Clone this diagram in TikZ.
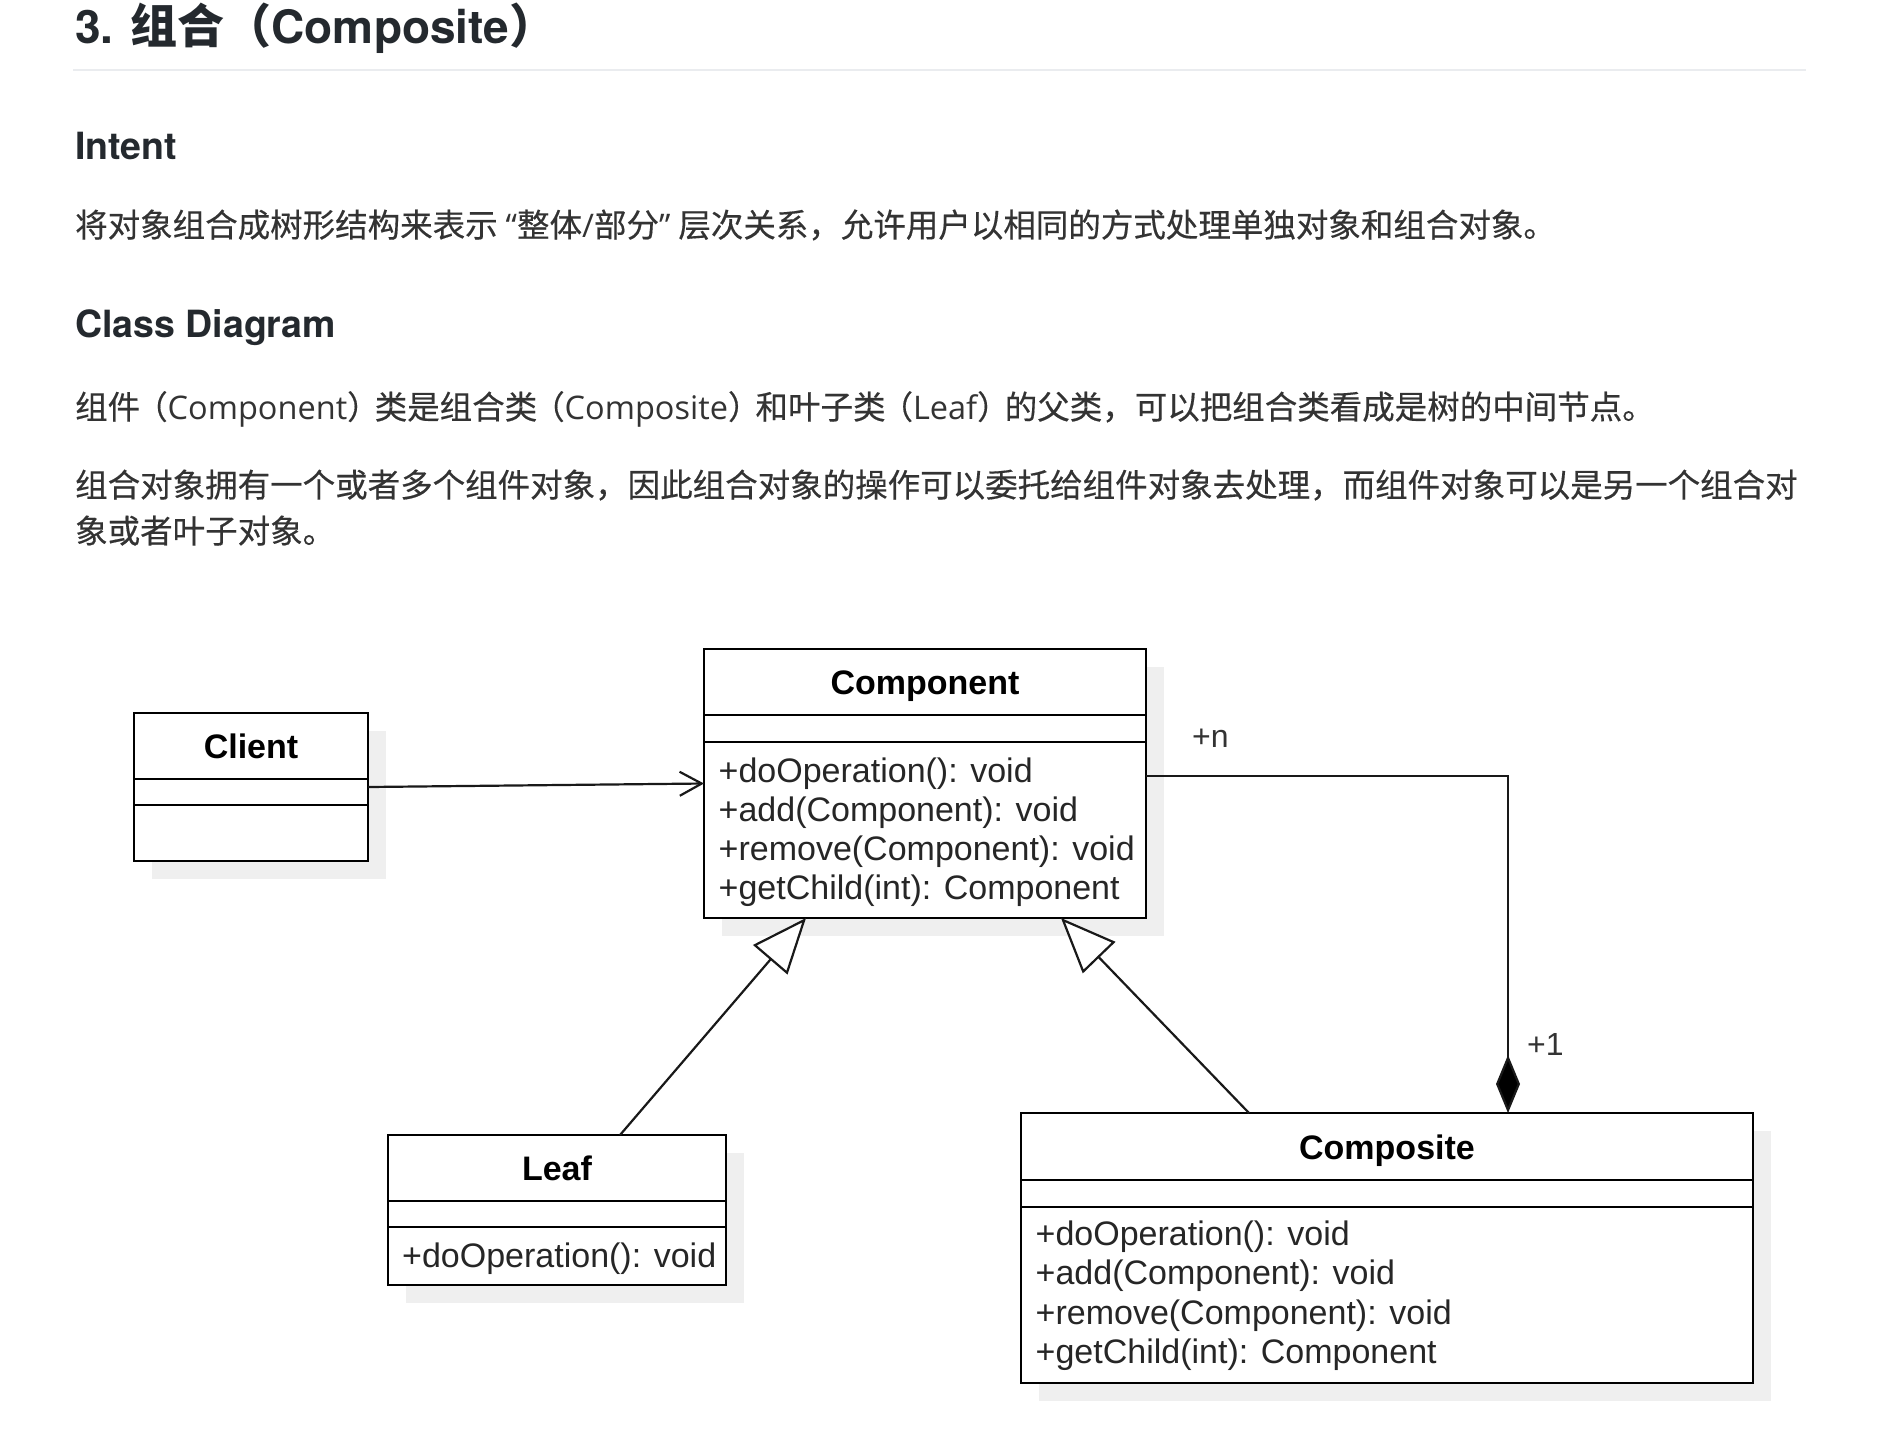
\documentclass[tikz,border=0pt]{standalone}
\usepackage{fontspec}
\setmainfont{Liberation Sans}
\newfontfamily\cjk[FakeBold=0.4]{Noto Sans CJK SC}
\newfontfamily\cjkt{Noto Sans CJK SC}
\newfontfamily\latin{Open Sans}
\newfontfamily\heros{TeX Gyre Heros}
\usetikzlibrary{arrows.meta,calc,shadows}
\definecolor{headc}{HTML}{24292E}
\definecolor{bodyc}{HTML}{333333}
\definecolor{rulec}{HTML}{EAECEF}
\definecolor{shadowc}{HTML}{EFEFEF}
\newcommand\lp{\kern-5pt（}
\newcommand\rp{）\kern-5pt}
\tikzset{
  classbox/.style={draw=black, line width=2.6pt, fill=white, inner sep=0pt, outer sep=0pt,
    anchor=north west,
    drop shadow={shadow xshift=18pt, shadow yshift=-18pt, fill=shadowc, opacity=1}},
  cname/.style={font=\fontsize{34}{40}\selectfont\bfseries, anchor=base, inner sep=0pt, text=black},
  cattr/.style={font=\fontsize{34}{40}\selectfont, anchor=base west, inner sep=0pt, text=black!85},
  mult/.style={font=\fontsize{32}{38}\selectfont, anchor=base west, inner sep=0pt, text=bodyc},
  divider/.style={line width=2.6pt},
  conn/.style={line width=2.2pt, draw=black!90},
  gen/.style={conn, -{Triangle[open, length=55pt, width=45pt, fill=white, line width=2.2pt]}},
  assoc/.style={conn, -{Straight Barb[length=22pt, width=24pt, line width=2.2pt]}},
  compos/.style={conn, -{Diamond[length=58pt, width=24pt, fill=black]}},
  htitle/.style={font=\heros\bfseries\fontsize{46}{56}\selectfont, anchor=base west, inner sep=0pt, text=headc},
  hsub/.style={font=\heros\bfseries\fontsize{37.5}{46}\selectfont, anchor=base west, inner sep=0pt, text=headc},
  para/.style={font=\latin\fontsize{32.5}{46}\selectfont, anchor=base west, inner sep=0pt, text=bodyc},
}
\begin{document}
\begin{tikzpicture}[x=1pt,y=-1pt]
\useasboundingbox[fill=white] (0,0) rectangle (1890,1428);

% ---- document text ----
\node[htitle] (title) at (75,43) {3. {\cjkt\fontsize{47}{56}\selectfont 组合（}Composite{\cjkt\fontsize{47}{56}\selectfont ）}};
\draw[rulec, line width=2.5pt] (73,70) -- (1806,70);
\node[hsub] (intent) at (75,159) {Intent};
\node[para] (p1) at (75,237) {{\cjk 将对象组合成树形结构来表示}\kern8pt“{\cjk 整体}/{\cjk 部分}”\kern8pt{\cjk 层次关系，允许用户以相同的方式处理单独对象和组合对象。}};
\node[hsub] (cdiag) at (75,337) {Class Diagram};
\node[para] (p2) at (75,419) {{\cjk 组件\lp}Component{\cjk \rp 类是组合类\lp}Composite{\cjk \rp 和叶子类\lp}Leaf{\cjk \rp 的父类，可以把组合类看成是树的中间节点。}};
\node[para] (p3a) at (75,497) {{\cjk 组合对象拥有一个或者多个组件对象，因此组合对象的操作可以委托给组件对象去处理，而组件对象可以是另一个组合对}};
\node[para] (p3b) at (75,543) {{\cjk 象或者叶子对象。}};

% ---- Client ----
\node[classbox, minimum width=234pt, minimum height=148pt] (client) at (134,713) {};
\draw[divider] ($(client.north west)+(0,66)$) -- ($(client.north east)+(0,66)$);
\draw[divider] ($(client.north west)+(0,92)$) -- ($(client.north east)+(0,92)$);
\node[cname] (clientname) at ($(client.north)+(0,45)$) {Client};

% ---- Component ----
\node[classbox, minimum width=442pt, minimum height=269pt] (component) at (704,649) {};
\draw[divider] ($(component.north west)+(0,66)$) -- ($(component.north east)+(0,66)$);
\draw[divider] ($(component.north west)+(0,93)$) -- ($(component.north east)+(0,93)$);
\node[cname] (compname) at ($(component.north)+(0,45)$) {Component};
\node[cattr] (compa1) at ($(component.north west)+(14.5,133)$) {+doOperation(): void};
\node[cattr] (compa2) at ($(component.north west)+(14.5,172.3)$) {+add(Component): void};
\node[cattr] (compa3) at ($(component.north west)+(14.5,211.6)$) {+remove(Component): void};
\node[cattr] (compa4) at ($(component.north west)+(14.5,250.9)$) {+getChild(int): Component};

% ---- Leaf ----
\node[classbox, minimum width=338pt, minimum height=150pt] (leaf) at (388,1135) {};
\draw[divider] ($(leaf.north west)+(0,66)$) -- ($(leaf.north east)+(0,66)$);
\draw[divider] ($(leaf.north west)+(0,92)$) -- ($(leaf.north east)+(0,92)$);
\node[cname] (leafname) at ($(leaf.north)+(0,45)$) {Leaf};
\node[cattr] (leafa1) at ($(leaf.north west)+(14,132)$) {+doOperation(): void};

% ---- Composite ----
\node[classbox, minimum width=732pt, minimum height=270pt] (composite) at (1021,1113) {};
\draw[divider] ($(composite.north west)+(0,67)$) -- ($(composite.north east)+(0,67)$);
\draw[divider] ($(composite.north west)+(0,94)$) -- ($(composite.north east)+(0,94)$);
\node[cname] (cmpname) at ($(composite.north)+(0,46)$) {Composite};
\node[cattr] (cmpa1) at ($(composite.north west)+(14.5,132)$) {+doOperation(): void};
\node[cattr] (cmpa2) at ($(composite.north west)+(14.5,171.5)$) {+add(Component): void};
\node[cattr] (cmpa3) at ($(composite.north west)+(14.5,211)$) {+remove(Component): void};
\node[cattr] (cmpa4) at ($(composite.north west)+(14.5,250.5)$) {+getChild(int): Component};

% ---- connectors ----
\draw[assoc] (client.east) -- (component.west);
\draw[gen] ($(leaf.north)+(63,0)$) -- ($(component.south)+(-119,0)$);
\draw[gen] ($(composite.north)+(-138,0)$) -- ($(component.south)+(136,0)$);
\coordinate (cstart) at ($(component.east)+(0,-7.5)$);
\coordinate (cend) at ($(composite.north)+(121,0)$);
\draw[compos] (cstart) -| (cend);

% ---- multiplicities ----
\node[mult] (mn) at (1192,747) {+n};
\node[mult] (m1) at (1527,1055) {+1};
\end{tikzpicture}
\end{document}
